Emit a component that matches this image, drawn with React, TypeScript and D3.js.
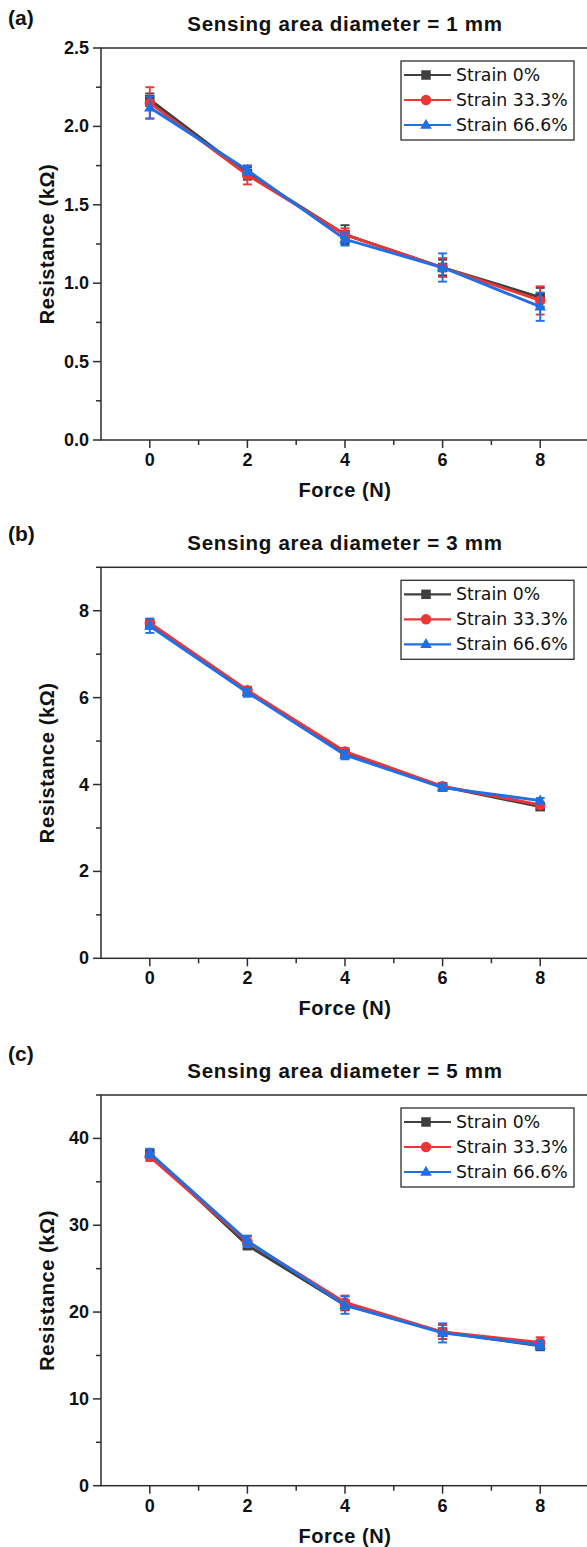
import React from 'react';
import * as d3 from 'd3';

const forces = [0, 2, 4, 6, 8];
const seriesNames = ['Strain 0%', 'Strain 33.3%', 'Strain 66.6%'];
const seriesColors = ['#3f3f3f', '#ee3535', '#1f6fe5'];
const seriesShapes = ['square', 'circle', 'triangle'];
const panelLabels = ['(a)', '(b)', '(c)'];
const panelTitles = [
  'Sensing area diameter = 1 mm',
  'Sensing area diameter = 3 mm',
  'Sensing area diameter = 5 mm',
];
const xAxisTitle = 'Force (N)';
const yAxisTitle = 'Resistance (kΩ)';
const xTicks = [0, 2, 4, 6, 8];
const xMinorTicks = [1, 3, 5, 7];

// (a) 1 mm
const aStrain0 = [2.17, 1.70, 1.31, 1.10, 0.91];
const aStrain0Err = [0.04, 0.04, 0.06, 0.05, 0.06];
const aStrain33 = [2.15, 1.69, 1.31, 1.10, 0.89];
const aStrain33Err = [0.10, 0.06, 0.04, 0.06, 0.09];
const aStrain66 = [2.12, 1.72, 1.28, 1.10, 0.85];
const aStrain66Err = [0.07, 0.03, 0.04, 0.09, 0.09];
const aYTicks = [0, 0.5, 1.0, 1.5, 2.0, 2.5];
const aYMinor = [0.25, 0.75, 1.25, 1.75, 2.25];

// (b) 3 mm
const bStrain0 = [7.68, 6.15, 4.71, 3.95, 3.49];
const bStrain0Err = [0.08, 0.08, 0.08, 0.06, 0.06];
const bStrain33 = [7.72, 6.17, 4.76, 3.96, 3.53];
const bStrain33Err = [0.10, 0.08, 0.08, 0.06, 0.06];
const bStrain66 = [7.65, 6.12, 4.68, 3.93, 3.63];
const bStrain66Err = [0.16, 0.10, 0.10, 0.08, 0.06];
const bYTicks = [0, 2, 4, 6, 8];
const bYMinor = [1, 3, 5, 7, 9];

// (c) 5 mm
const cStrain0 = [38.2, 27.7, 20.8, 17.7, 16.1];
const cStrain0Err = [0.4, 0.5, 0.6, 0.8, 0.5];
const cStrain33 = [37.9, 28.1, 21.1, 17.7, 16.5];
const cStrain33Err = [0.5, 0.6, 0.8, 0.8, 0.6];
const cStrain66 = [38.3, 28.2, 20.8, 17.6, 16.2];
const cStrain66Err = [0.5, 0.6, 1.0, 1.1, 0.5];
const cYTicks = [0, 10, 20, 30, 40];
const cYMinor = [5, 15, 25, 35, 45];

const panels = [
  { vals: [aStrain0, aStrain33, aStrain66], errs: [aStrain0Err, aStrain33Err, aStrain66Err], yMax: 2.5, ticks: aYTicks, minor: aYMinor, fmt: d3.format('.1f') },
  { vals: [bStrain0, bStrain33, bStrain66], errs: [bStrain0Err, bStrain33Err, bStrain66Err], yMax: 9, ticks: bYTicks, minor: bYMinor, fmt: d3.format('d') },
  { vals: [cStrain0, cStrain33, cStrain66], errs: [cStrain0Err, cStrain33Err, cStrain66Err], yMax: 45, ticks: cYTicks, minor: cYMinor, fmt: d3.format('d') },
];

// layout (pixels)
const W = 587;
const H = 1547;
const plotLeft = 101;
const plotRight = 589;
const layouts = [
  { top: 48, bottom: 440, labelY: 25 },
  { top: 567.3, bottom: 958.3, labelY: 541 },
  { top: 1095, bottom: 1485.7, labelY: 1061 },
];

const axisColor = '#2e2e2e';
const tickFont = "'Liberation Sans Narrow', 'Arial Narrow', 'Liberation Sans', Arial, sans-serif";
const boldFont = "'Liberation Sans', Arial, sans-serif";
const legendFont = "'DejaVu Sans', 'Liberation Sans', sans-serif";

function Marker({ shape, x, y, color, size = 9.5 }: { shape: string; x: number; y: number; color: string; size?: number }) {
  if (shape === 'square') {
    return <rect x={x - size / 2} y={y - size / 2} width={size} height={size} fill={color} />;
  }
  if (shape === 'circle') {
    return <circle cx={x} cy={y} r={size / 2 + 0.5} fill={color} />;
  }
  const s = size + 2;
  const h = s * 0.87;
  const path = `M${x},${y - h * 0.62} L${x + s / 2},${y + h * 0.38} L${x - s / 2},${y + h * 0.38} Z`;
  return <path d={path} fill={color} />;
}

function Panel({ idx }: { idx: number }) {
  const p = panels[idx];
  const L = layouts[idx];
  const x = d3.scaleLinear().domain([-1, 9]).range([plotLeft, plotRight]);
  const y = d3.scaleLinear().domain([0, p.yMax]).range([L.bottom, L.top]);
  const line = d3
    .line<number>()
    .x((_, i) => x(forces[i]))
    .y((d) => y(d));
  const midX = (plotLeft + plotRight) / 2;
  const midY = (L.top + L.bottom) / 2;
  const legX = 401;
  const legY = L.top + 13;
  return (
    <g>
      <text x={8} y={L.labelY} fontFamily={boldFont} fontWeight="bold" fontSize={21} fill="#111">
        {panelLabels[idx]}
      </text>
      <text x={midX} y={L.top - 17} textAnchor="middle" fontFamily={boldFont} fontWeight="bold" fontSize={20.5} letterSpacing={0.7} fill="#111">
        {panelTitles[idx]}
      </text>
      {/* frame */}
      <rect x={plotLeft} y={L.top} width={plotRight - plotLeft} height={L.bottom - L.top} fill="none" stroke={axisColor} strokeWidth={1.5} />
      {/* x ticks */}
      {xTicks.map((t) => (
        <g key={'xt' + t}>
          <line x1={x(t)} x2={x(t)} y1={L.bottom} y2={L.bottom + 8} stroke={axisColor} strokeWidth={1.5} />
          <text x={x(t)} y={L.bottom + 26} textAnchor="middle" fontFamily={tickFont} fontWeight="bold" fontSize={18} fill="#111">
            {t}
          </text>
        </g>
      ))}
      {xMinorTicks.map((t) => (
        <line key={'xm' + t} x1={x(t)} x2={x(t)} y1={L.bottom} y2={L.bottom + 5} stroke={axisColor} strokeWidth={1.5} />
      ))}
      {/* y ticks */}
      {p.ticks.map((t) => (
        <g key={'yt' + t}>
          <line x1={plotLeft - 8} x2={plotLeft} y1={y(t)} y2={y(t)} stroke={axisColor} strokeWidth={1.5} />
          <text x={plotLeft - 12} y={y(t) + 6} textAnchor="end" fontFamily={tickFont} fontWeight="bold" fontSize={18} fill="#111">
            {p.fmt(t)}
          </text>
        </g>
      ))}
      {p.minor.map((t) => (
        <line key={'ym' + t} x1={plotLeft - 5} x2={plotLeft} y1={y(t)} y2={y(t)} stroke={axisColor} strokeWidth={1.5} />
      ))}
      {/* axis titles */}
      <text x={midX} y={L.bottom + 57} textAnchor="middle" fontFamily={boldFont} fontWeight="bold" fontSize={20} letterSpacing={0.6} fill="#111">
        {xAxisTitle}
      </text>
      <text
        transform={`translate(54,${midY}) rotate(-90)`}
        textAnchor="middle"
        fontFamily={boldFont}
        fontWeight="bold"
        fontSize={20}
        letterSpacing={0.6}
        fill="#111"
      >
        {yAxisTitle}
      </text>
      {/* series */}
      {p.vals.map((vals, si) => (
        <g key={'s' + si}>
          <path d={line(vals) || ''} fill="none" stroke={seriesColors[si]} strokeWidth={2.9} />
          {vals.map((v, i) => {
            const e = p.errs[si][i];
            const cx = x(forces[i]);
            return (
              <g key={'e' + i}>
                <line x1={cx} x2={cx} y1={y(v + e)} y2={y(v - e)} stroke={seriesColors[si]} strokeWidth={1.9} />
                <line x1={cx - 4.5} x2={cx + 4.5} y1={y(v + e)} y2={y(v + e)} stroke={seriesColors[si]} strokeWidth={1.9} />
                <line x1={cx - 4.5} x2={cx + 4.5} y1={y(v - e)} y2={y(v - e)} stroke={seriesColors[si]} strokeWidth={1.9} />
              </g>
            );
          })}
          {vals.map((v, i) => (
            <Marker key={'m' + i} shape={seriesShapes[si]} x={x(forces[i])} y={y(v)} color={seriesColors[si]} />
          ))}
        </g>
      ))}
      {/* legend */}
      <rect x={legX} y={legY} width={173} height={79} fill="#fff" stroke={axisColor} strokeWidth={1.3} />
      {seriesNames.map((name, si) => {
        const ry = legY + 14 + si * 25;
        return (
          <g key={'l' + si}>
            <line x1={legX + 3} x2={legX + 50} y1={ry} y2={ry} stroke={seriesColors[si]} strokeWidth={2.2} />
            <Marker shape={seriesShapes[si]} x={legX + 25} y={ry} color={seriesColors[si]} />
            <text x={legX + 55} y={ry + 6} fontFamily={legendFont} fontSize={17.3} fill="#111">
              {name}
            </text>
          </g>
        );
      })}
    </g>
  );
}

export default function App() {
  return (
    <svg
      width={W}
      height={H}
      viewBox={`0 0 ${W} ${H}`}
      style={{ position: 'absolute', left: 0, top: 0, display: 'block', background: '#fff' }}
    >
      <rect x={0} y={0} width={W} height={H} fill="#fff" />
      {[0, 1, 2].map((i) => (
        <Panel key={i} idx={i} />
      ))}
    </svg>
  );
}
